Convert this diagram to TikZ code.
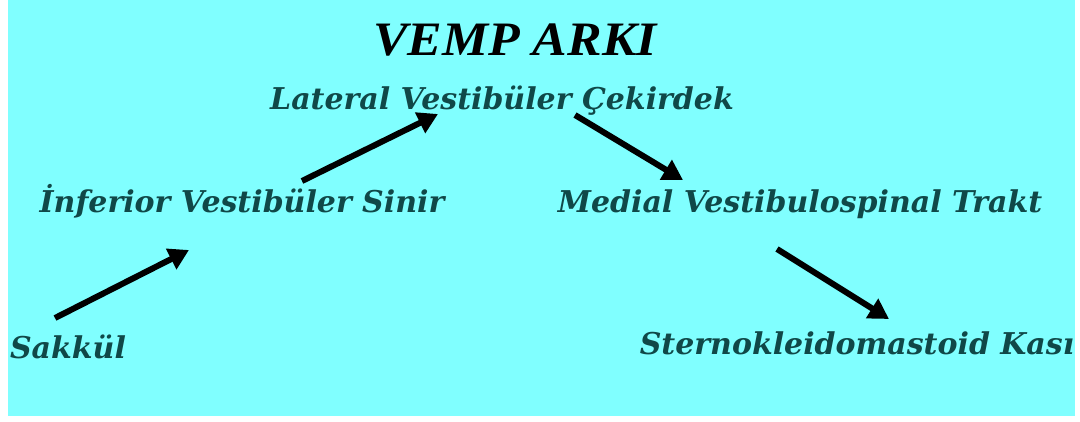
\documentclass[tikz,border=0pt]{standalone}
\usepackage{fontspec}
\setmainfont{DejaVu Serif}
\newfontfamily\titlefont{Liberation Serif}
\usetikzlibrary{arrows.meta}
\definecolor{bgcyan}{RGB}{128,255,255}
\definecolor{tealtext}{RGB}{16,72,72}
\tikzset{
  lbl/.style={font=\fontsize{30}{34}\selectfont\bfseries\itshape, text=tealtext, inner sep=0pt, anchor=base},
  ttl/.style={font=\titlefont\fontsize{48}{52}\selectfont\bfseries\itshape, text=black, inner sep=0pt, anchor=base},
  arr/.style={line width=6pt, -{Triangle[length=20pt,width=22pt]}, black}
}
\begin{document}
\begin{tikzpicture}[x=1pt,y=-1pt]
\useasboundingbox (0,0) rectangle (1080,421);
\fill[bgcyan] (8,0) rectangle (1075,416);
\node[ttl] (title) at (515,55) {\scalebox{1.08}[1]{VEMP ARKI}};
\node[lbl] (lat) at (502,109) {Lateral Vestibüler Çekirdek};
\node[lbl] (inf) at (242,212) {İnferior Vestibüler Sinir};
\node[lbl] (med) at (800,212) {Medial Vestibulospinal Trakt};
\node[lbl] (sak) at (68,358) {Sakkül};
\node[lbl] (ste) at (857,354) {Sternokleidomastoid Kası};
\coordinate (a1s) at (55,318); \coordinate (a1e) at (189,250);
\coordinate (a2s) at (302,181); \coordinate (a2e) at (438,114);
\coordinate (a3s) at (575,115); \coordinate (a3e) at (683,180);
\coordinate (a4s) at (777,249); \coordinate (a4e) at (889,319);
\draw[arr] (a1s) -- (a1e);
\draw[arr] (a2s) -- (a2e);
\draw[arr] (a3s) -- (a3e);
\draw[arr] (a4s) -- (a4e);
\end{tikzpicture}
\end{document}
